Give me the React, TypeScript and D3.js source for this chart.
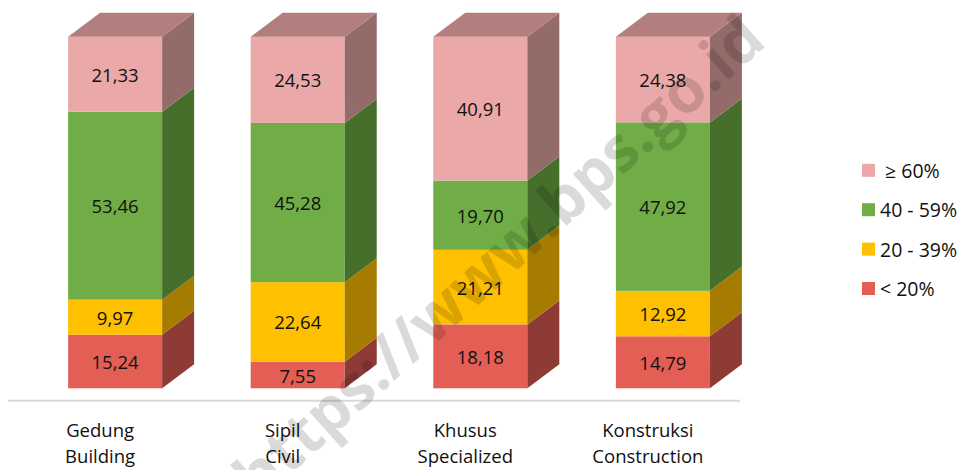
import * as d3 from "d3";
import { useMemo } from "react";

const categories = ["Gedung", "Sipil", "Khusus", "Konstruksi"];
const categoriesEn = ["Building", "Civil", "Specialized", "Construction"];

// series from the bottom of the stack up
const seriesKeys = ["lt20", "r20_39", "r40_59", "ge60"];
const seriesLabels = ["< 20%", "20 - 39%", "40 - 59%", " \u2265 60%"];
const lt20 = [15.24, 7.55, 18.18, 14.79];
const r20_39 = [9.97, 22.64, 21.21, 12.92];
const r40_59 = [53.46, 45.28, 19.7, 47.92];
const ge60 = [21.33, 24.53, 40.91, 24.38];

const FRONT = ["#E35F55", "#FFC000", "#70AD47", "#EBA8A8"];
const SIDE = ["#8E3A35", "#A67C00", "#476F2C", "#936B69"];
const TOP = "#B27F7E";

const WIDTH = 963;
const HEIGHT = 470;
const DEPTH = { dx: 32, dy: -24 };
const FONT = "'Open Sans', 'Noto Sans', sans-serif";

function App() {
  const rows = categories.map((c, i) => ({
    cat: c,
    lt20: lt20[i],
    r20_39: r20_39[i],
    r40_59: r40_59[i],
    ge60: ge60[i],
  }));

  const stacked = useMemo(() => d3.stack<any>().keys(seriesKeys)(rows), []);

  const xScale = d3
    .scaleBand()
    .domain(categories)
    .range([24, 754])
    .paddingInner(0.485)
    .paddingOuter(0.2415);
  const bw = xScale.bandwidth();

  const yScale = d3.scaleLinear().domain([0, 100]).range([388.3, 36.7]);

  const fmt = (v: number) => d3.format(".2f")(v).replace(".", ",");

  const faces: JSX.Element[] = [];
  const labels: JSX.Element[] = [];

  stacked.forEach((layer, si) => {
    layer.forEach((d, ci) => {
      const xl = xScale(categories[ci]) ?? 0;
      const xr = xl + bw;
      const yb = yScale(d[0]);
      const yt = yScale(d[1]);
      const { dx, dy } = DEPTH;
      faces.push(
        <rect
          key={`f-${si}-${ci}`}
          x={xl}
          y={yt}
          width={bw}
          height={yb - yt}
          fill={FRONT[si]}
        />
      );
      faces.push(
        <polygon
          key={`s-${si}-${ci}`}
          points={[
            [xr, yb],
            [xr + dx, yb + dy],
            [xr + dx, yt + dy],
            [xr, yt],
          ]
            .map((p) => p.join(","))
            .join(" ")}
          fill={SIDE[si]}
        />
      );
      if (si === seriesKeys.length - 1) {
        faces.push(
          <polygon
            key={`t-${ci}`}
            points={[
              [xl, yt],
              [xl + dx, yt + dy],
              [xr + dx, yt + dy],
              [xr, yt],
            ]
              .map((p) => p.join(","))
              .join(" ")}
            fill={TOP}
          />
        );
      }
      labels.push(
        <text
          key={`l-${si}-${ci}`}
          x={xl + bw / 2}
          y={(yb + yt) / 2}
          textAnchor="middle"
          dominantBaseline="central"
          fontSize={18.5}
          fill="#111"
        >
          {fmt(d[1] - d[0])}
        </text>
      );
    });
  });

  const catLabels = categories.map((c, i) => {
    const x = (xScale(c) ?? 0) + bw / 2 - 15;
    return (
      <g key={c}>
        <text x={x} y={437} textAnchor="middle" fontSize={18.5} fill="#111">
          {c}
        </text>
        <text x={x} y={463} textAnchor="middle" fontSize={18.5} fill="#111">
          {categoriesEn[i]}
        </text>
      </g>
    );
  });

  // legend listed top-down: highest range first
  const legendOrder = [3, 2, 1, 0];
  const legend = legendOrder.map((si, row) => {
    const cy = 170.3 + row * 39.4;
    return (
      <g key={seriesKeys[si]}>
        <rect x={862} y={cy - 6.5} width={13} height={13} fill={FRONT[si]} />
        <text
          x={880}
          y={cy}
          dominantBaseline="central"
          fontSize={19.5}
          fill="#111"
          style={{ whiteSpace: "pre" }}
        >
          {seriesLabels[si]}
        </text>
      </g>
    );
  });

  return (
    <svg
      width={WIDTH}
      height={HEIGHT}
      style={{ position: "absolute", left: 0, top: 0, fontFamily: FONT }}
    >
      <rect width={WIDTH} height={HEIGHT} fill="white" />
      <line x1={8} x2={740} y1={400.7} y2={400.7} stroke="#d9d9d9" strokeWidth={2} />
      {faces}
      {labels}
      {catLabels}
      {legend}
      <text
        x={497}
        y={256}
        textAnchor="middle"
        dominantBaseline="central"
        transform="rotate(-42 497 256)"
        fontSize={62}
        fontWeight="bold"
        fill="#000"
        opacity={0.14}
      >
        https://www.bps.go.id
      </text>
    </svg>
  );
}

export default App;
